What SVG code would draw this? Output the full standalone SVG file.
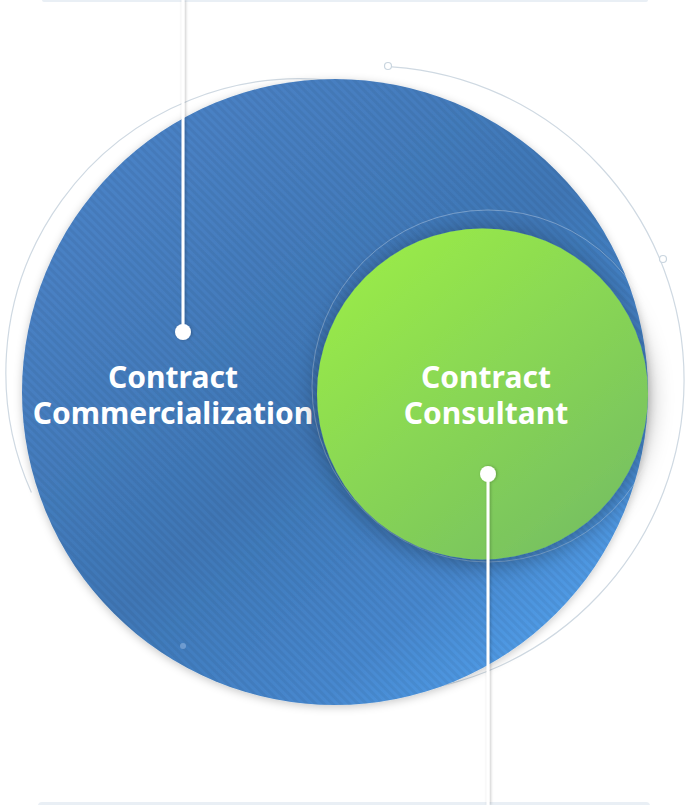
<svg xmlns="http://www.w3.org/2000/svg" width="690" height="805" viewBox="0 0 690 805">
  <defs>
    <linearGradient id="gBlue" x1="0.1" y1="0.1" x2="0.9" y2="0.95">
      <stop offset="0" stop-color="#4b83c7"/>
      <stop offset="0.5" stop-color="#3f77b6"/>
      <stop offset="0.78" stop-color="#4788cf"/>
      <stop offset="1" stop-color="#56a6f2"/>
    </linearGradient>
    <linearGradient id="gGreen" x1="0.2" y1="0.08" x2="0.85" y2="0.9">
      <stop offset="0" stop-color="#98e94a"/>
      <stop offset="1" stop-color="#77c160"/>
    </linearGradient>
    <pattern id="stripes" width="6" height="6" patternUnits="userSpaceOnUse" patternTransform="rotate(-45)">
      <rect x="0" y="0" width="3" height="6" fill="#000" fill-opacity="0.05"/>
    </pattern>
    <filter id="shBlue" x="-10%" y="-10%" width="120%" height="120%">
      <feDropShadow dx="0" dy="2" stdDeviation="4" flood-color="#000" flood-opacity="0.22"/>
    </filter>
    <filter id="shGreen" x="-20%" y="-20%" width="140%" height="140%">
      <feDropShadow dx="0" dy="4" stdDeviation="12" flood-color="#000" flood-opacity="0.35"/>
    </filter>
    <filter id="shLine" filterUnits="userSpaceOnUse" x="0" y="-10" width="690" height="830">
      <feDropShadow dx="1" dy="0" stdDeviation="1.5" flood-color="#000" flood-opacity="0.25"/>
    </filter>
  </defs>
  <style>
    .ring{fill:none;stroke:#cfd9e2;stroke-width:1.2}
    .dotRing{fill:#fff;stroke:#c9d5df;stroke-width:1.2}
    .lbl{font-family:"Noto Sans","DejaVu Sans",sans-serif;font-weight:700;font-size:30px;fill:#fff;text-anchor:middle}
    .conn{stroke:#fff;stroke-width:3;fill:none}
    .pin{fill:#fff}
    .band{fill:#e9eff5}
  </style>

  <rect class="band" x="42" y="-2" width="606" height="4" rx="2"/>
  <rect class="band" x="38" y="802" width="612" height="10" rx="4"/>

  <g id="rings">
    <path class="ring" d="M 330 80.3 A 294 294 0 0 0 31.4 492.6"/>
    <path class="ring" d="M 392 66.8 A 314 314 0 0 1 390 693.4"/>
    <circle class="dotRing" cx="388" cy="66" r="3.5"/>
    <circle class="dotRing" cx="663" cy="259" r="3.5"/>
  </g>

  <g id="node-commercialization">
    <circle cx="335" cy="392" r="313" fill="url(#gBlue)" filter="url(#shBlue)"/>
    <circle cx="335" cy="392" r="313" fill="url(#stripes)"/>
    <circle cx="183" cy="646" r="3" fill="#8db3e0" fill-opacity="0.6"/>
    <text class="lbl" x="173" y="388">Contract</text>
    <text class="lbl" x="173" y="424">Commercialization</text>
  </g>

  <g id="node-consultant">
    <circle cx="488" cy="386" r="176" fill="none" stroke="#fff" stroke-opacity="0.3" stroke-width="1"/>
    <circle cx="482.5" cy="394" r="165.5" fill="url(#gGreen)" filter="url(#shGreen)"/>
    <text class="lbl" x="486" y="388">Contract</text>
    <text class="lbl" x="486" y="424">Consultant</text>
  </g>

  <g id="connectors" filter="url(#shLine)">
    <line class="conn" x1="183" y1="0" x2="183" y2="332"/>
    <circle class="pin" cx="183" cy="332" r="8"/>
    <line class="conn" x1="488" y1="474" x2="488" y2="805"/>
    <circle class="pin" cx="488" cy="474" r="8"/>
  </g>
</svg>
